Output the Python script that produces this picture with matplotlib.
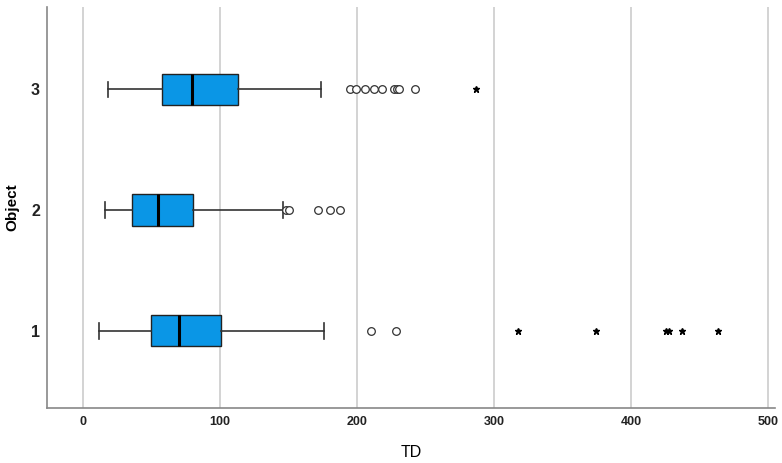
import numpy as np
import matplotlib.pyplot as plt

plt.rcParams['font.family'] = ['Liberation Sans', 'DejaVu Sans']

groups = [1, 2, 3]
whislo = [11.7, 15.8, 18.5]
q1 = [49.9, 35.8, 57.9]
med = [70.0, 55.0, 79.8]
q3 = [100.7, 80.5, 112.9]
whishi = [176.0, 146.2, 173.5]

# outliers (circles) and extremes (stars) per group
out_circ = [
    [210.2, 228.5],
    [148.0, 150.4, 171.3, 180.0, 187.6],
    [194.9, 199.0, 205.8, 212.2, 218.5, 227.0, 229.0, 231.0, 242.3],
]
out_star = [
    [317.8, 374.2, 425.5, 427.5, 437.3, 463.7],
    [],
    [286.9],
]

stats = []
for i in range(3):
    stats.append(dict(med=med[i], q1=q1[i], q3=q3[i],
                      whislo=whislo[i], whishi=whishi[i], fliers=[]))

fig = plt.figure(figsize=(7.82, 4.63), dpi=100)
ax = fig.add_axes([0.060, 0.119, 0.931, 0.865])

ax.bxp(stats, positions=groups, orientation='horizontal', widths=0.26,
       patch_artist=True, showfliers=False,
       boxprops=dict(facecolor='#0A96E6', edgecolor='#222222', linewidth=1.0),
       medianprops=dict(color='black', linewidth=2.2),
       whiskerprops=dict(color='#333333', linewidth=1.2),
       capprops=dict(color='#333333', linewidth=1.2),
       capwidths=0.13)

for i, g in enumerate(groups):
    if out_circ[i]:
        ax.plot(out_circ[i], [g] * len(out_circ[i]), linestyle='none',
                marker='o', markersize=5.5, markerfacecolor='white',
                markeredgecolor='#333333', markeredgewidth=0.9, zorder=3)
    if out_star[i]:
        ax.plot(out_star[i], [g] * len(out_star[i]), linestyle='none',
                marker='*', markersize=5, color='black', zorder=3)

ax.set_xlim(-26.3, 505)
ax.set_ylim(0.36, 3.68)
ax.set_xticks([0, 100, 200, 300, 400, 500])
ax.set_yticks(groups)
ax.set_yticklabels(['1', '2', '3'])
ax.tick_params(axis='x', length=0, labelsize=9, pad=6)
ax.tick_params(axis='y', length=0, labelsize=11.5, pad=5)
for lab in ax.get_xticklabels() + ax.get_yticklabels():
    lab.set_fontweight('bold')
    lab.set_color('#222222')

ax.grid(axis='x', color='#cccccc', linewidth=1.2)
ax.set_axisbelow(True)
for s in ['top', 'right']:
    ax.spines[s].set_visible(False)
for s in ['left', 'bottom']:
    ax.spines[s].set_color('#888888')
    ax.spines[s].set_linewidth(1.2)

ax.set_xlabel('TD', fontsize=11.5, labelpad=12)
ax.set_ylabel('Object', fontsize=11, fontweight='bold', labelpad=8)

fig.savefig('out.png', dpi=100)
